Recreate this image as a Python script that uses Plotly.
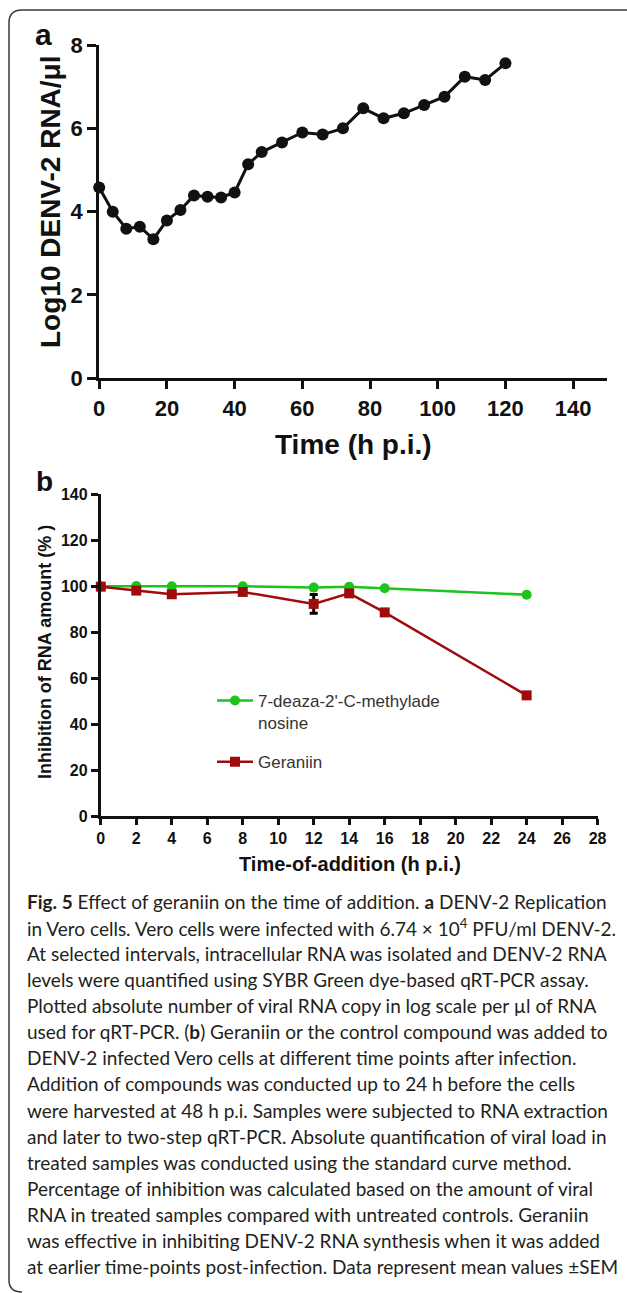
import plotly.graph_objects as go

W, H = 627, 1293

# ---------------- data ----------------
# Panel a: DENV-2 replication
time_a = [0, 4, 8, 12, 16, 20, 24, 28, 32, 36, 40, 44, 48, 54, 60, 66, 72, 78, 84, 90, 96, 102, 108, 114, 120]
log_rna = [4.58, 4.00, 3.59, 3.64, 3.34, 3.79, 4.04, 4.39, 4.36, 4.34, 4.46, 5.14, 5.43, 5.66, 5.90, 5.85,
           6.00, 6.48, 6.24, 6.36, 6.56, 6.76, 7.24, 7.16, 7.56]

# Panel b: time of addition
time_b = [0, 2, 4, 8, 12, 14, 16, 24]
deaza_inhib = [100.0, 100.1, 100.0, 100.0, 99.4, 99.8, 99.1, 96.3]
geraniin_inhib = [99.8, 98.1, 96.5, 97.5, 92.3, 96.9, 88.6, 52.5]
geraniin_sem = [0, 0, 0, 0, 4.1, 0, 0, 0]

xticks_a = [0, 20, 40, 60, 80, 100, 120, 140]
yticks_a = [0, 2, 4, 6, 8]
xticks_b = list(range(0, 29, 2))
yticks_b = [0, 20, 40, 60, 80, 100, 120, 140]

caption_lines = [
    "<b>Fig. 5</b> Effect of geraniin on the time of addition. <b>a</b> DENV-2 Replication",
    "in Vero cells. Vero cells were infected with 6.74 × 10<sup>4</sup> PFU/ml DENV-2.",
    "At selected intervals, intracellular RNA was isolated and DENV-2 RNA",
    "levels were quantified using SYBR Green dye-based qRT-PCR assay.",
    "Plotted absolute number of viral RNA copy in log scale per µl of RNA",
    "used for qRT-PCR. (<b>b</b>) Geraniin or the control compound was added to",
    "DENV-2 infected Vero cells at different time points after infection.",
    "Addition of compounds was conducted up to 24 h before the cells",
    "were harvested at 48 h p.i. Samples were subjected to RNA extraction",
    "and later to two-step qRT-PCR. Absolute quantification of viral load in",
    "treated samples was conducted using the standard curve method.",
    "Percentage of inhibition was calculated based on the amount of viral",
    "RNA in treated samples compared with untreated controls. Geraniin",
    "was effective in inhibiting DENV-2 RNA synthesis when it was added",
    "at earlier time-points post-infection. Data represent mean values ±SEM",
]

# ---------------- helpers (layout only) ----------------
def px(x):
    return x / W

def py(y):
    return 1 - y / H

GREEN = "#1cc41c"
RED = "#a00c0c"
ARIAL = "Arial, Liberation Sans, sans-serif"
CAP_FONT = "Lato, Roboto, sans-serif"

fig = go.Figure()

fig.add_trace(go.Scatter(
    x=time_a, y=log_rna, mode="lines+markers",
    line=dict(color="#111111", width=3),
    marker=dict(color="#111111", size=12, symbol="circle"),
    xaxis="x", yaxis="y", showlegend=False, cliponaxis=False,
))

fig.add_trace(go.Scatter(
    x=time_b, y=deaza_inhib, mode="lines+markers",
    name="7-deaza-2'-C-methylade<br>nosine",
    line=dict(color=GREEN, width=2.5),
    marker=dict(color=GREEN, size=10, symbol="circle"),
    xaxis="x2", yaxis="y2", cliponaxis=False, legendgroup="g1",
))

fig.add_trace(go.Scatter(
    x=time_b, y=geraniin_inhib, mode="lines+markers",
    name="Geraniin",
    line=dict(color=RED, width=2.5),
    marker=dict(color=RED, size=10, symbol="square"),
    error_y=dict(type="data", array=geraniin_sem, visible=True,
                 color="#000000", thickness=3, width=4),
    xaxis="x2", yaxis="y2", cliponaxis=False, legendgroup="g2",
))

axis_common = dict(showgrid=False, zeroline=False, showline=True, linecolor="#111111",
                   ticks="outside", tickcolor="#111111", mirror=False, fixedrange=True,
                   automargin=False)

fig.update_layout(
    template="none",
    width=W, height=H, autosize=False,
    margin=dict(l=0, r=0, t=0, b=0, pad=0, autoexpand=False),
    paper_bgcolor="white", plot_bgcolor="white",
    xaxis=dict(domain=[px(99.2), px(607)], range=[0, 150], anchor="y",
               tickvals=xticks_a, linewidth=3, ticklen=8, tickwidth=3,
               tickfont=dict(family=ARIAL, size=22, color="#111111", weight="bold"),
               **axis_common),
    yaxis=dict(domain=[py(378.3), py(45)], range=[0, 8], anchor="x",
               tickvals=yticks_a, linewidth=3, ticklen=9, tickwidth=3,
               tickfont=dict(family=ARIAL, size=22, color="#111111", weight="bold"),
               **axis_common),
    xaxis2=dict(domain=[px(100.8), px(597.6)], range=[0, 28], anchor="y2",
                tickvals=xticks_b, linewidth=3, ticklen=6, tickwidth=2.5,
                tickfont=dict(family=ARIAL, size=16, color="#111111", weight="bold"),
                **axis_common),
    yaxis2=dict(domain=[py(816), py(494.3)], range=[0, 140], anchor="x2",
                tickvals=yticks_b, linewidth=3, ticklen=7, tickwidth=2.5,
                tickfont=dict(family=ARIAL, size=16, color="#111111", weight="bold"),
                **axis_common),
    showlegend=True,
    legend=dict(x=px(212), y=py(683), xanchor="left", yanchor="top",
                bgcolor="rgba(0,0,0,0)", borderwidth=0, valign="top",
                traceorder="grouped", tracegroupgap=14, itemwidth=36,
                font=dict(family=ARIAL, size=17, color="#333333")),
)

annotations = [
    # axis titles
    dict(text="Log10 DENV-2 RNA/μl", x=px(50), y=py(202), textangle=-90,
         font=dict(family=ARIAL, size=28, color="#111111", weight="bold")),
    dict(text="Time (h p.i.)", x=px(353.6), y=py(444),
         font=dict(family=ARIAL, size=28, color="#111111", weight="bold")),
    dict(text="Inhibition of RNA amount (% )", x=px(44.4), y=py(651.7), textangle=-90,
         font=dict(family=ARIAL, size=18, color="#111111", weight="bold")),
    dict(text="Time-of-addition (h p.i.)", x=px(350), y=py(864),
         font=dict(family=ARIAL, size=20, color="#111111", weight="bold")),
    # panel labels
    dict(text="a", x=px(43), y=py(34),
         font=dict(family=ARIAL, size=30, color="#111111", weight="bold")),
    dict(text="b", x=px(44), y=py(481),
         font=dict(family=ARIAL, size=28, color="#111111", weight="bold")),
]
for a in annotations:
    a.update(xref="paper", yref="paper", showarrow=False, xanchor="center", yanchor="middle")

for i, line in enumerate(caption_lines):
    annotations.append(dict(
        text=line, xref="paper", yref="paper", x=px(25), y=py(901.5 + i * 26.07),
        xanchor="left", yanchor="middle", showarrow=False,
        font=dict(family=CAP_FONT, size=19, color="#231f20"),
    ))

fig.update_layout(annotations=annotations)

# rounded frame around the figure
def P(x, y):
    return f"{px(x):.5f},{py(y):.5f}"

frame_path = ("M " + P(627, 10) + " L " + P(22, 10) + " Q " + P(9, 10) + " " + P(9, 23) +
              " L " + P(9, 1280) + " Q " + P(9, 1292) + " " + P(22, 1292))
fig.add_shape(type="path", path=frame_path, xref="paper", yref="paper",
              line=dict(color="#3a3a3a", width=1.5))

fig.write_html("out.html", config={"displayModeBar": False},
               post_script="document.body.style.margin='0';")
